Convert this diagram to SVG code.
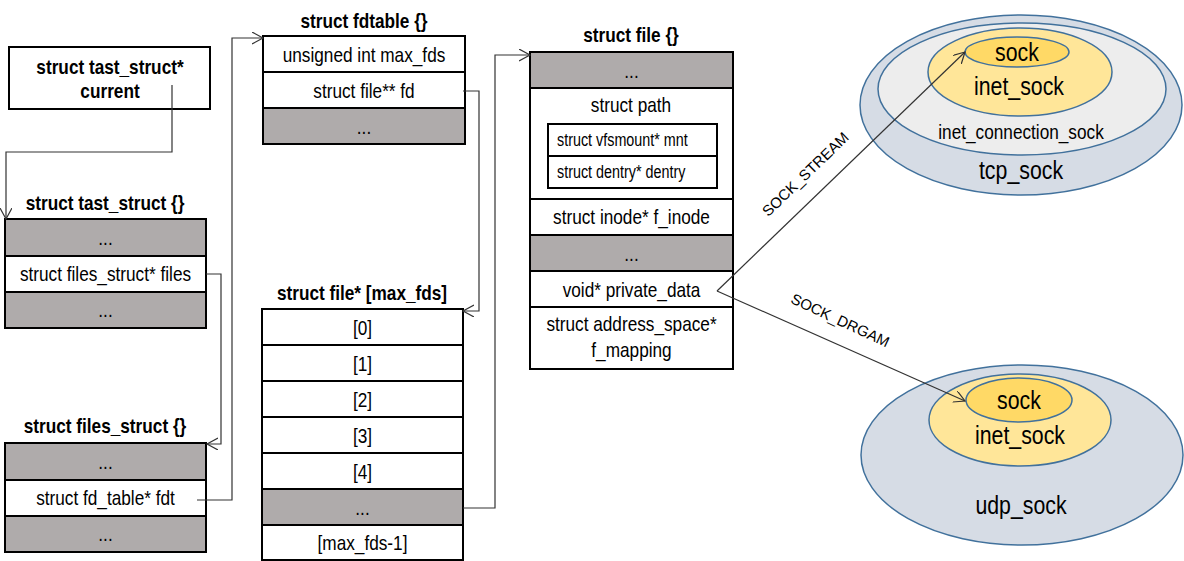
<svg xmlns="http://www.w3.org/2000/svg" width="1184" height="561" viewBox="0 0 1184 561">
<style>
  .box { fill: #ffffff; stroke: #000000; stroke-width: 2; }
  .gray { fill: #afabab; stroke: #000000; stroke-width: 2; }
  .t { font-family: "Liberation Sans", Arial, sans-serif; font-size: 21px; fill: #000; text-anchor: middle; }
  .small { font-size: 17.5px; text-anchor: start; }
  .title { font-family: "Liberation Sans", Arial, sans-serif; font-size: 21px; font-weight: bold; fill: #000; text-anchor: middle; }
  .conn { fill: none; stroke: #333333; stroke-width: 1.2; }
  .lbl { font-family: "Liberation Sans", Arial, sans-serif; font-size: 15px; fill: #000; text-anchor: middle; }
  .ell { stroke: #41719c; stroke-width: 1.5; }
  .et { font-family: "Liberation Sans", Arial, sans-serif; font-size: 26px; fill: #000; text-anchor: middle; }
  .et2 { font-family: "Liberation Sans", Arial, sans-serif; font-size: 21px; fill: #000; text-anchor: middle; }
</style>
<defs>
  <marker id="arr" markerUnits="userSpaceOnUse" markerWidth="14" markerHeight="14" refX="11" refY="6" orient="auto">
    <path d="M0,0 L11,6 L0,12" fill="none" stroke="#333333" stroke-width="1.2"/>
  </marker>
</defs>
<rect width="1184" height="561" fill="#ffffff"/>

<g id="current">
  <rect class="box" x="9" y="47" width="201" height="62"/>
  <text class="title" transform="translate(110,74) scale(0.82,1)">struct tast_struct*</text>
  <text class="title" transform="translate(110,98) scale(0.82,1)">current</text>
</g>

<g id="tast_struct">
  <text class="title" transform="translate(105,210) scale(0.82,1)">struct tast_struct {}</text>
  <rect class="gray" x="5" y="219" width="201" height="37"/>
  <rect class="box" x="5" y="256" width="201" height="36"/>
  <rect class="gray" x="5" y="292" width="201" height="36"/>
  <text class="t" transform="translate(105.5,245) scale(0.82,1)">...</text>
  <text class="t" transform="translate(105.5,281) scale(0.82,1)">struct files_struct* files</text>
  <text class="t" transform="translate(105.5,317) scale(0.82,1)">...</text>
</g>

<g id="files_struct">
  <text class="title" transform="translate(105,433) scale(0.82,1)">struct files_struct {}</text>
  <rect class="gray" x="5" y="443" width="201" height="37"/>
  <rect class="box" x="5" y="480" width="201" height="36"/>
  <rect class="gray" x="5" y="516" width="201" height="36"/>
  <text class="t" transform="translate(105.5,469) scale(0.82,1)">...</text>
  <text class="t" transform="translate(105.5,505) scale(0.82,1)">struct fd_table* fdt</text>
  <text class="t" transform="translate(105.5,541) scale(0.82,1)">...</text>
</g>

<g id="fdtable">
  <text class="title" transform="translate(364,28) scale(0.82,1)">struct fdtable {}</text>
  <rect class="box" x="263" y="36" width="202" height="36"/>
  <rect class="box" x="263" y="72" width="202" height="36"/>
  <rect class="gray" x="263" y="108" width="202" height="36"/>
  <text class="t" transform="translate(364,62) scale(0.82,1)">unsigned int max_fds</text>
  <text class="t" transform="translate(364,98) scale(0.82,1)">struct file** fd</text>
  <text class="t" transform="translate(364,134) scale(0.82,1)">...</text>
</g>

<g id="file_array">
  <text class="title" transform="translate(362,300) scale(0.82,1)">struct file* [max_fds]</text>
  <rect class="box" x="262" y="309" width="201" height="36"/>
  <rect class="box" x="262" y="345" width="201" height="36"/>
  <rect class="box" x="262" y="381" width="201" height="36"/>
  <rect class="box" x="262" y="417" width="201" height="36"/>
  <rect class="box" x="262" y="453" width="201" height="36"/>
  <rect class="gray" x="262" y="489" width="201" height="36"/>
  <rect class="box" x="262" y="525" width="201" height="35"/>
  <text class="t" transform="translate(362.5,335) scale(0.82,1)">[0]</text>
  <text class="t" transform="translate(362.5,371) scale(0.82,1)">[1]</text>
  <text class="t" transform="translate(362.5,407) scale(0.82,1)">[2]</text>
  <text class="t" transform="translate(362.5,443) scale(0.82,1)">[3]</text>
  <text class="t" transform="translate(362.5,479) scale(0.82,1)">[4]</text>
  <text class="t" transform="translate(362.5,515) scale(0.82,1)">...</text>
  <text class="t" transform="translate(362.5,550) scale(0.82,1)">[max_fds-1]</text>
</g>

<g id="file">
  <text class="title" transform="translate(631,42) scale(0.82,1)">struct file {}</text>
  <rect class="gray" x="530" y="52" width="203" height="36"/>
  <rect class="box" x="530" y="88" width="203" height="111"/>
  <rect class="box" x="530" y="199" width="203" height="36"/>
  <rect class="gray" x="530" y="235" width="203" height="36"/>
  <rect class="box" x="530" y="271" width="203" height="36"/>
  <rect class="box" x="530" y="307" width="203" height="62"/>
  <text class="t" transform="translate(631.5,78) scale(0.82,1)">...</text>
  <text class="t" transform="translate(631,112) scale(0.82,1)">struct path</text>
  <rect class="box" x="548" y="124" width="169" height="32"/>
  <rect class="box" x="548" y="156" width="169" height="32"/>
  <text class="t small" transform="translate(557,146) scale(0.82,1)">struct vfsmount* mnt</text>
  <text class="t small" transform="translate(557,178) scale(0.82,1)">struct dentry* dentry</text>
  <text class="t" transform="translate(631.5,224) scale(0.82,1)">struct inode* f_inode</text>
  <text class="t" transform="translate(631.5,261) scale(0.82,1)">...</text>
  <text class="t" transform="translate(631.5,297) scale(0.82,1)">void* private_data</text>
  <text class="t" transform="translate(631.5,331) scale(0.82,1)">struct address_space*</text>
  <text class="t" transform="translate(631.5,357) scale(0.82,1)">f_mapping</text>
</g>

<g id="tcp_sock">
  <ellipse class="ell" cx="1021" cy="105" rx="161" ry="90" fill="#d6dce5"/>
  <ellipse class="ell" cx="1022" cy="89" rx="144" ry="66" fill="#ededed"/>
  <ellipse class="ell" cx="1020" cy="72" rx="92" ry="44" fill="#ffe699"/>
  <ellipse class="ell" cx="1017" cy="52" rx="52" ry="15" fill="#ffd966"/>
  <text class="et" transform="translate(1017,61) scale(0.82,1)">sock</text>
  <text class="et" transform="translate(1019,95) scale(0.82,1)">inet_sock</text>
  <text class="et2" transform="translate(1021,139) scale(0.82,1)">inet_connection_sock</text>
  <text class="et" transform="translate(1021,179) scale(0.82,1)">tcp_sock</text>
</g>

<g id="udp_sock">
  <ellipse class="ell" cx="1022" cy="455" rx="161" ry="90" fill="#d6dce5"/>
  <ellipse class="ell" cx="1020" cy="420" rx="91" ry="46" fill="#ffe699"/>
  <ellipse class="ell" cx="1019" cy="400" rx="53" ry="22" fill="#ffd966"/>
  <text class="et" transform="translate(1019,409) scale(0.82,1)">sock</text>
  <text class="et" transform="translate(1020,444) scale(0.82,1)">inet_sock</text>
  <text class="et" transform="translate(1021,514) scale(0.82,1)">udp_sock</text>
</g>

<g id="connectors">
  <path class="conn" d="M172,85 V152 H6 V219" marker-end="url(#arr)"/>
  <path class="conn" d="M206,274 H221 V444 H207" marker-end="url(#arr)"/>
  <path class="conn" d="M197,500 H232 V38 H263" marker-end="url(#arr)"/>
  <path class="conn" d="M463,91 H479 V311 H463" marker-end="url(#arr)"/>
  <path class="conn" d="M463,508 H495 V55 H530" marker-end="url(#arr)"/>
  <path class="conn" d="M717,291 L965,52" marker-end="url(#arr)"/>
  <path class="conn" d="M717,291 L965,401" marker-end="url(#arr)"/>
  <text class="lbl" transform="translate(809,178) rotate(-44)">SOCK_STREAM</text>
  <text class="lbl" transform="translate(838,325) rotate(25)">SOCK_DRGAM</text>
</g>
</svg>
